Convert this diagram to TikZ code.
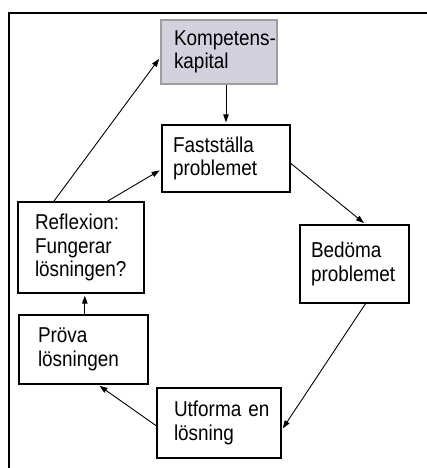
\documentclass[tikz,border=0pt]{standalone}
\usepackage{fontspec}
\setmainfont{Liberation Sans}[FakeStretch=0.88]
\usetikzlibrary{arrows.meta,calc}
\definecolor{kfill}{HTML}{D3D1DD}
\definecolor{kdraw}{HTML}{9E9E9E}
\hbadness=10000 \hfuzz=100pt
\begin{document}
\begin{tikzpicture}[x=1pt,y=-1pt,
  box/.style={draw=black, line width=1.3pt, rectangle, align=left, inner ysep=0pt,
    font=\fontsize{21.5}{23.5}\selectfont},
  arr/.style={line width=0.9pt, -{Triangle[length=8pt,width=5.5pt]}, shorten >=2pt}]
\useasboundingbox (0,0) rectangle (427,468);
\draw[line width=2pt] (9,480) -- (9,13.5) -- (430,13.5);
\node[box, draw=kdraw, fill=kfill, minimum width=116pt, minimum height=64pt, text width=90pt, inner xsep=13pt] (komp) at (219,52) {\mbox{Kompetens-}\\kapital};
\node[box, minimum width=128pt, minimum height=67pt, text width=106pt, inner xsep=11pt] (fast) at (226,158.5) {Fastställa\\problemet};
\node[box, minimum width=126pt, minimum height=91pt, text width=92pt, inner xsep=17pt] (refl) at (81,247.5) {Reflexion:\\Fungerar\\lösningen?};
\node[box, minimum width=109pt, minimum height=78pt, text width=87pt, inner xsep=11pt] (bedo) at (354.5,264) {Bedöma\\problemet};
\node[box, minimum width=129pt, minimum height=69pt, text width=91pt, inner xsep=19pt] (prova) at (83.5,349.5) {Pröva\\lösningen};
\node[box, minimum width=124pt, minimum height=70pt, text width=90pt, inner xsep=17pt] (utf) at (219,423) {\mbox{Utforma en}\\lösning};
\draw[arr] (komp.south -| fast.north) -- (fast.north);
\draw[arr] ($(refl.north west)!0.286!(refl.north east)$) -- ($(komp.north west)!0.58!(komp.south west)$);
\draw[arr] ($(refl.north west)!0.706!(refl.north east)$) -- ($(fast.north west)!0.66!(fast.south west)$);
\draw[arr] ($(fast.north east)!0.57!(fast.south east)$) -- ($(bedo.north west)!0.6!(bedo.north east)$);
\draw[arr] ($(bedo.south west)!0.6!(bedo.south east)$) -- ($(utf.north east)!0.6!(utf.south east)$);
\draw[arr] ($(utf.north west)!0.54!(utf.south west)$) -- ($(prova.south west)!0.61!(prova.south east)$);
\coordinate (pt) at ($(prova.north west)!0.51!(prova.north east)$);
\draw[arr] (pt) -- (pt |- refl.south);
\end{tikzpicture}
\end{document}
